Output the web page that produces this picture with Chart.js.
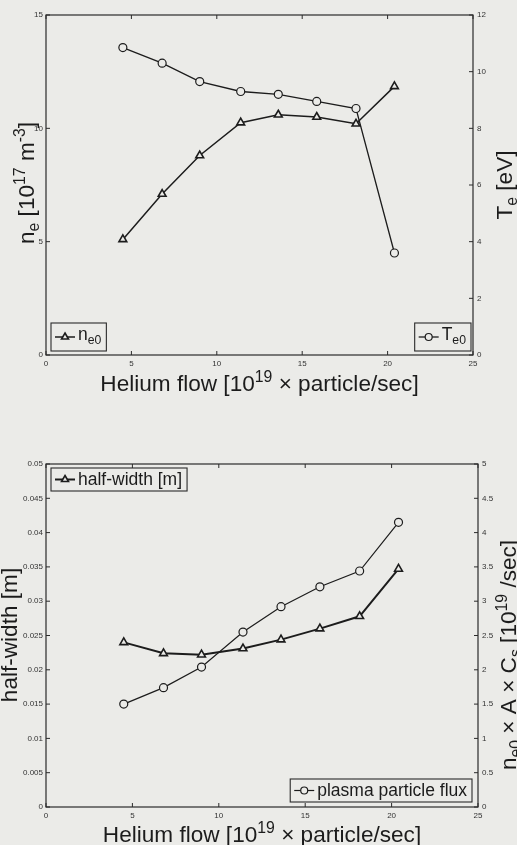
<!DOCTYPE html>
<html>
<head>
<meta charset="utf-8">
<script src="https://cdn.jsdelivr.net/npm/chart.js@4.4.1/dist/chart.umd.min.js"></script>
<style>
  html, body { margin: 0; padding: 0; background: #ebebe8; overflow: hidden; }
  .panel { position: absolute; left: 0; width: 517px; }
  #topPanel { top: 0; height: 420px; }
  #botPanel { top: 420px; height: 425px; }
</style>
</head>
<body>
<div class="panel" id="topPanel"><canvas id="topChart"></canvas></div>
<div class="panel" id="botPanel"><canvas id="botChart"></canvas></div>
<script>
// Helium flow [10^19 particle/sec]
const flow = [4.5, 6.8, 9.0, 11.4, 13.6, 15.85, 18.15, 20.4];

// top panel: central density and temperature
const neCentral = [5.1, 7.1, 8.8, 10.25, 10.6, 10.5, 10.2, 11.85];
const teCentral = [10.85, 10.3, 9.65, 9.3, 9.2, 8.95, 8.7, 3.6];

// bottom panel: half-width and particle flux
const halfWidth = [0.0240, 0.0224, 0.0222, 0.0231, 0.0244, 0.0260, 0.0278, 0.0347];
const particleFlux = [1.5, 1.74, 2.04, 2.55, 2.92, 3.21, 3.44, 4.15];

// tick labels
const flowTicks = [0, 5, 10, 15, 20, 25];
const neTicks = [0, 5, 10, 15];
const teTicks = [0, 2, 4, 6, 8, 10, 12];
const hwTicks = [0, 0.005, 0.01, 0.015, 0.02, 0.025, 0.03, 0.035, 0.04, 0.045, 0.05];
const fluxTicks = [0, 0.5, 1, 1.5, 2, 2.5, 3, 3.5, 4, 4.5, 5];

const FONT = '"Liberation Sans", Arial, sans-serif';
const INK = '#1c1c1c';
const PAPER = '#ebebe8';
const TITLE_SIZE = 22.6;

const pts = (xs, ys) => xs.map((x, i) => ({ x: x, y: ys[i] }));

// text with _{sub} and ^{sup}
function parseRich(str) {
    const parts = [];
    const re = /([_^])\{([^}]*)\}/g;
    let last = 0, m;
    while ((m = re.exec(str))) {
        if (m.index > last) parts.push({ t: str.slice(last, m.index), s: 0 });
        parts.push({ t: m[2], s: m[1] === '_' ? 1 : -1 });
        last = re.lastIndex;
    }
    if (last < str.length) parts.push({ t: str.slice(last), s: 0 });
    return parts;
}

function richWidth(ctx, str, size) {
    let w = 0;
    parseRich(str).forEach(p => {
        ctx.font = (p.s ? size * 0.7 : size) + 'px ' + FONT;
        w += ctx.measureText(p.t).width;
    });
    return w;
}

function drawRich(ctx, str, x, y, size, rot, align) {
    const w = richWidth(ctx, str, size);
    ctx.save();
    ctx.translate(x, y);
    ctx.rotate(rot || 0);
    ctx.fillStyle = INK;
    ctx.textBaseline = 'alphabetic';
    ctx.textAlign = 'left';
    let cx = align === 'left' ? 0 : -w / 2;
    parseRich(str).forEach(p => {
        const fs = p.s ? size * 0.7 : size;
        ctx.font = fs + 'px ' + FONT;
        const dy = p.s === 1 ? size * 0.22 : (p.s === -1 ? -size * 0.4 : 0);
        ctx.fillText(p.t, cx, dy);
        cx += ctx.measureText(p.t).width;
    });
    ctx.restore();
}

// frame, inward ticks, axis titles and corner legends
const paperPlugin = {
    id: 'paper',
    afterDraw(chart, args, opts) {
        const ctx = chart.ctx;
        const a = chart.chartArea;
        ctx.save();
        ctx.strokeStyle = '#2a2a2a';
        ctx.lineWidth = 1.2;
        ctx.strokeRect(a.left, a.top, a.right - a.left, a.bottom - a.top);
        ctx.lineWidth = 1;
        const tl = 4;
        chart.scales.x.ticks.forEach(t => {
            const px = chart.scales.x.getPixelForValue(t.value);
            ctx.beginPath();
            ctx.moveTo(px, a.bottom); ctx.lineTo(px, a.bottom - tl);
            ctx.moveTo(px, a.top); ctx.lineTo(px, a.top + tl);
            ctx.stroke();
        });
        chart.scales.y.ticks.forEach(t => {
            const py = chart.scales.y.getPixelForValue(t.value);
            ctx.beginPath();
            ctx.moveTo(a.left, py); ctx.lineTo(a.left + tl, py);
            ctx.stroke();
        });
        chart.scales.y1.ticks.forEach(t => {
            const py = chart.scales.y1.getPixelForValue(t.value);
            ctx.beginPath();
            ctx.moveTo(a.right, py); ctx.lineTo(a.right - tl, py);
            ctx.stroke();
        });

        // axis titles
        opts.titles.forEach(t => {
            drawRich(ctx, t.text, t.x, t.y, TITLE_SIZE, t.rot ? -Math.PI / 2 : 0);
        });

        // legends
        const lsize = 17.5;
        opts.legends.forEach(l => {
            const ds = chart.data.datasets[l.dataset];
            const tw = richWidth(ctx, ds.label, lsize);
            const w = 27 + tw + 5;
            const h = ds.label.indexOf('_{') >= 0 ? 28 : 23;
            const bx = l.corner[1] === 'l' ? a.left + l.dx : a.right - l.dx - w;
            const by = l.corner[0] === 't' ? a.top + l.dy : a.bottom - l.dy - h;
            ctx.fillStyle = PAPER;
            ctx.fillRect(bx, by, w, h);
            ctx.strokeStyle = '#2a2a2a';
            ctx.lineWidth = 1.1;
            ctx.strokeRect(bx, by, w, h);
            const my = by + h / 2;
            ctx.strokeStyle = ds.borderColor;
            ctx.lineWidth = ds.borderWidth;
            ctx.beginPath();
            ctx.moveTo(bx + 4, my); ctx.lineTo(bx + 24, my);
            ctx.stroke();
            ctx.fillStyle = ds.pointBackgroundColor;
            ctx.strokeStyle = ds.borderColor;
            ctx.lineWidth = ds.pointBorderWidth;
            Chart.helpers.drawPoint(ctx, {
                pointStyle: ds.pointStyle, radius: ds.pointRadius - 0.5,
                rotation: 0, borderWidth: ds.pointBorderWidth
            }, bx + 14, my);
            drawRich(ctx, ds.label, bx + 27, by + 17, lsize, 0, 'left');
        });
        ctx.restore();
    }
};

function tickAxis(values, side, width, pad) {
    return {
        type: 'linear',
        position: side,
        min: values[0],
        max: values[values.length - 1],
        afterBuildTicks: s => { s.ticks = values.map(v => ({ value: v })); },
        afterFit: s => {
            if (side === 'bottom') s.height = width; else s.width = width;
        },
        grid: { display: false, drawTicks: false },
        border: { display: false },
        ticks: {
            padding: pad,
            color: '#333',
            font: { family: FONT, size: 8 },
            autoSkip: false,
            maxRotation: 0,
            callback: v => String(v)
        }
    };
}

function series(label, data, axis, style, lineW) {
    return {
        label: label,
        data: data,
        yAxisID: axis,
        borderColor: INK,
        borderWidth: lineW,
        pointStyle: style,
        pointRadius: style === 'triangle' ? 4.5 : 4,
        pointBackgroundColor: PAPER,
        pointBorderColor: INK,
        pointBorderWidth: style === 'triangle' ? 1.6 : 1.2,
        tension: 0,
        fill: false
    };
}

// Top chart: n_e0 and T_e0 vs helium flow
new Chart(document.getElementById('topChart').getContext('2d'), {
    type: 'line',
    data: {
        datasets: [
            series('n_{e0}', pts(flow, neCentral), 'y', 'triangle', 1.5),
            series('T_{e0}', pts(flow, teCentral), 'y1', 'circle', 1.3)
        ]
    },
    options: {
        responsive: true,
        maintainAspectRatio: false,
        animation: false,
        layout: { padding: { top: 15, left: 0, right: 0, bottom: 0 } },
        plugins: {
            legend: { display: false },
            tooltip: { enabled: false },
            paper: {
                titles: [
                    { text: 'Helium flow [10^{19} × particle/sec]', x: 259.5, y: 391 },
                    { text: 'n_{e} [10^{17} m^{-3}]', x: 34, y: 183, rot: true },
                    { text: 'T_{e} [eV]', x: 512, y: 185, rot: true }
                ],
                legends: [
                    { dataset: 0, corner: 'bl', dx: 5, dy: 4 },
                    { dataset: 1, corner: 'br', dx: 2, dy: 4 }
                ]
            }
        },
        scales: {
            x: tickAxis(flowTicks, 'bottom', 65, 4),
            y: tickAxis(neTicks, 'left', 46, 3),
            y1: tickAxis(teTicks, 'right', 44, 4)
        }
    },
    plugins: [paperPlugin]
});

// Bottom chart: half-width and plasma particle flux vs helium flow
new Chart(document.getElementById('botChart').getContext('2d'), {
    type: 'line',
    data: {
        datasets: [
            series('half-width [m]', pts(flow, halfWidth), 'y', 'triangle', 2),
            series('plasma particle flux', pts(flow, particleFlux), 'y1', 'circle', 1.2)
        ]
    },
    options: {
        responsive: true,
        maintainAspectRatio: false,
        animation: false,
        layout: { padding: { top: 44, left: 0, right: 0, bottom: 0 } },
        plugins: {
            legend: { display: false },
            tooltip: { enabled: false },
            paper: {
                titles: [
                    { text: 'Helium flow [10^{19} × particle/sec]', x: 262, y: 422 },
                    { text: 'half-width [m]', x: 17, y: 215, rot: true },
                    { text: 'n_{e0} × A × C_{s} [10^{19} /sec]', x: 516, y: 235, rot: true }
                ],
                legends: [
                    { dataset: 0, corner: 'tl', dx: 5, dy: 4 },
                    { dataset: 1, corner: 'br', dx: 6, dy: 5 }
                ]
            }
        },
        scales: {
            x: tickAxis(flowTicks, 'bottom', 38, 4),
            y: tickAxis(hwTicks, 'left', 46, 3),
            y1: tickAxis(fluxTicks, 'right', 39, 4)
        }
    },
    plugins: [paperPlugin]
});
</script>
</body>
</html>
